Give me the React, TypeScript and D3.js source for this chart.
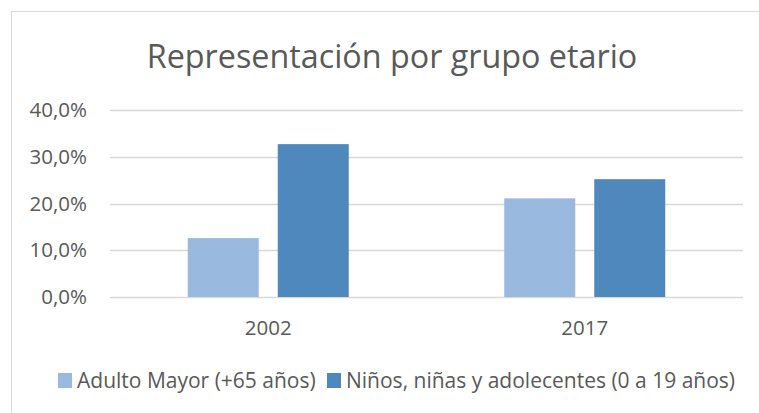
import * as d3 from 'd3';
import React, { useRef, useEffect } from 'react';

const categories = ['2002', '2017'];
const seriesNames = ['Adulto Mayor (+65 años)', 'Niños, niñas y adolecentes (0 a 19 años)'];
const adultoMayor = [0.126, 0.211];
const ninos = [0.327, 0.252];
const yTicks = [0, 0.1, 0.2, 0.3, 0.4];

const colors = ['#99B9DF', '#4F88BC'];
const textColor = '#595959';
const font = '"Open Sans", sans-serif';

const App: React.FC = () => {
  const ref = useRef<HTMLDivElement>(null);

  useEffect(() => {
    if (!ref.current) return;
    ref.current.innerHTML = '';

    const width = 759;
    const height = 413;
    const margin = { top: 110, right: 16, bottom: 116, left: 110 };
    const plotW = width - margin.left - margin.right;
    const plotH = height - margin.top - margin.bottom;

    const svg = d3.select(ref.current)
      .append('svg')
      .attr('width', width)
      .attr('height', height)
      .style('display', 'block')
      .style('font-family', font);

    svg.append('rect')
      .attr('x', 0).attr('y', 0)
      .attr('width', width).attr('height', height)
      .attr('fill', '#fff');

    // chart frame
    svg.append('rect')
      .attr('x', 11.5).attr('y', 11.5)
      .attr('width', width).attr('height', height)
      .attr('fill', 'none')
      .attr('stroke', '#D9D9D9')
      .attr('stroke-width', 1);

    svg.append('text')
      .attr('x', 392)
      .attr('y', 68)
      .attr('text-anchor', 'middle')
      .attr('fill', textColor)
      .style('font-size', '32.3px')
      .text('Representación por grupo etario');

    const chart = svg.append('g')
      .attr('transform', `translate(${margin.left},${margin.top})`);

    const x0 = d3.scaleBand()
      .domain(categories)
      .range([0, plotW]);

    // bar layout inside each category band (gap between series)
    const barW = 71;
    const innerGap = 19;
    const groupW = barW * 2 + innerGap;

    const y = d3.scaleLinear()
      .domain([0, 0.4])
      .range([plotH, 0]);

    const fmt = (v: number) => (v * 100).toFixed(1).replace('.', ',') + '%';

    chart.selectAll('.grid')
      .data(yTicks)
      .enter()
      .append('line')
      .attr('x1', 0)
      .attr('x2', plotW)
      .attr('y1', d => Math.round(y(d)) + 0.5)
      .attr('y2', d => Math.round(y(d)) + 0.5)
      .attr('stroke', '#D9D9D9')
      .attr('stroke-width', 1.3);

    chart.selectAll('.ytick')
      .data(yTicks)
      .enter()
      .append('text')
      .attr('x', -23)
      .attr('y', d => y(d) + 7)
      .attr('text-anchor', 'end')
      .attr('fill', textColor)
      .style('font-size', '20.5px')
      .text(d => fmt(d));

    const series = [adultoMayor, ninos];
    series.forEach((values, si) => {
      chart.selectAll(`.bar${si}`)
        .data(values)
        .enter()
        .append('rect')
        .attr('x', (d, i) => {
          const bx = x0(categories[i]) ?? 0;
          return bx + (x0.bandwidth() - groupW) / 2 + si * (barW + innerGap);
        })
        .attr('y', d => y(d))
        .attr('width', barW)
        .attr('height', d => plotH - y(d))
        .attr('fill', colors[si]);
    });

    chart.selectAll('.xlabel')
      .data(categories)
      .enter()
      .append('text')
      .attr('x', d => (x0(d) ?? 0) + x0.bandwidth() / 2)
      .attr('y', plotH + 38)
      .attr('text-anchor', 'middle')
      .attr('fill', textColor)
      .style('font-size', '20.5px')
      .text(d => d);

    // legend
    const legend = svg.append('g').attr('transform', 'translate(58,373)');
    const items = [
      { name: seriesNames[0], x: 0, color: colors[0] },
      { name: seriesNames[1], x: 269, color: colors[1] },
    ];
    const li = legend.selectAll('.li')
      .data(items)
      .enter()
      .append('g')
      .attr('transform', d => `translate(${d.x},0)`);
    li.append('rect')
      .attr('width', 14).attr('height', 15)
      .attr('fill', d => d.color);
    li.append('text')
      .attr('x', 19)
      .attr('y', 15)
      .attr('fill', textColor)
      .style('font-size', '21px')
      .text(d => d.name);
  }, []);

  return (
    <div ref={ref} style={{ position: 'absolute', left: 0, top: 0 }} />
  );
};

export default App;
